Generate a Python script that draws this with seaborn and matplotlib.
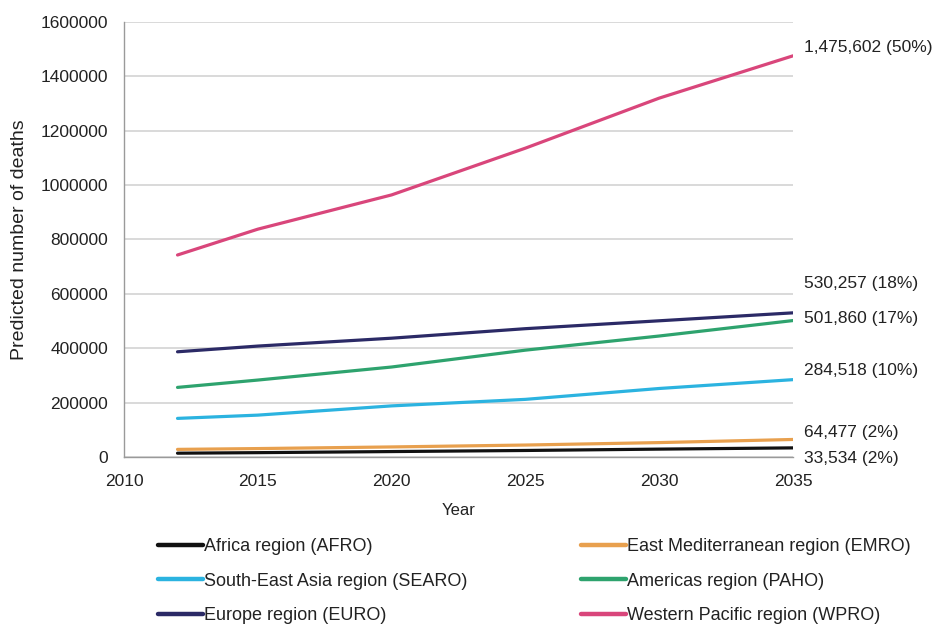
import pandas as pd
import numpy as np
import matplotlib
matplotlib.use("Agg")
import matplotlib.pyplot as plt
import seaborn as sns

# Years and predicted deaths per WHO region
years = [2012, 2015, 2020, 2025, 2030, 2035]
afro = [14000, 16000, 20000, 24000, 29000, 33534]
searo = [142000, 154000, 188000, 212000, 252000, 284518]
euro = [387000, 408000, 437000, 472000, 501000, 530257]
emro = [28000, 31000, 37000, 44000, 53000, 64477]
paho = [256000, 283000, 331000, 393000, 445000, 501860]
wpro = [743000, 838000, 964000, 1136000, 1320000, 1475602]

regions = ["Africa region (AFRO)", "South-East Asia region (SEARO)", "Europe region (EURO)",
           "East Mediterranean region (EMRO)", "Americas region (PAHO)", "Western Pacific region (WPRO)"]
series = [afro, searo, euro, emro, paho, wpro]
end_labels = ["33,534 (2%)", "284,518 (10%)", "530,257 (18%)",
              "64,477 (2%)", "501,860 (17%)", "1,475,602 (50%)"]
y_ticks = [0, 200000, 400000, 600000, 800000, 1000000, 1200000, 1400000, 1600000]
x_ticks = [2010, 2015, 2020, 2025, 2030, 2035]

colors = ["#111111", "#2bb3e0", "#2b2a66", "#e8a04e", "#2ea36e", "#d9467b"]
# vertical nudges (points) for the end labels so they don't overlap
label_dy = [-8, 6.5, 21, 5, 1.4, 5.8]

sns.set_style("white")
plt.rcParams['font.family'] = ['Liberation Sans', 'DejaVu Sans']

rows = []
for name, vals in zip(regions, series):
    for yr, v in zip(years, vals):
        rows.append({"Year": yr, "Deaths": v, "Region": name})
df = pd.DataFrame(rows)

fig = plt.figure(figsize=(9.46, 6.25), dpi=100)
ax = fig.add_axes([124 / 946, 1 - 457 / 625, (793 - 124) / 946, (457 - 22) / 625])

sns.lineplot(data=df, x="Year", y="Deaths", hue="Region", hue_order=regions,
             palette=colors, linewidth=2.3, ax=ax, legend=False)

ax.set_xlim(2010, 2035)
ax.set_ylim(0, 1600000)
ax.set_xticks(x_ticks)
ax.set_yticks(y_ticks)
ax.set_yticklabels([str(t) for t in y_ticks])
ax.yaxis.grid(True, color="#cfcfcf", linewidth=1.1)
ax.set_axisbelow(True)
for s in ["top", "right"]:
    ax.spines[s].set_visible(False)
for s in ["left", "bottom"]:
    ax.spines[s].set_color("#9a9a9a")
    ax.spines[s].set_linewidth(1)
ax.tick_params(axis="both", direction="inout", length=5, color="#9a9a9a",
               labelsize=12.5, labelcolor="#222222")
ax.tick_params(axis="y", pad=9)
ax.tick_params(axis="x", pad=10)
ax.set_xlabel("Year", fontsize=12, color="#222222", labelpad=10)
ax.set_ylabel("Predicted number of deaths", fontsize=14, color="#222222", labelpad=9)

for vals, lab, dy in zip(series, end_labels, label_dy):
    ax.annotate(lab, xy=(years[-1], vals[-1]), xytext=(8, dy), textcoords="offset points",
                va="center", ha="left", fontsize=12.5, color="#222222", annotation_clip=False)

handles = [plt.Line2D([], [], color=c, linewidth=3.2) for c in colors]
fig.legend(handles, regions, loc="upper left", bbox_to_anchor=(158 / 946, 1 - 538 / 625),
           ncol=2, frameon=False, fontsize=13, handlelength=2.5, handletextpad=0.05,
           columnspacing=6.3, labelspacing=0.97, borderpad=0, borderaxespad=0,
           labelcolor="#222222")

fig.savefig("out.png", dpi=100, facecolor="white")
